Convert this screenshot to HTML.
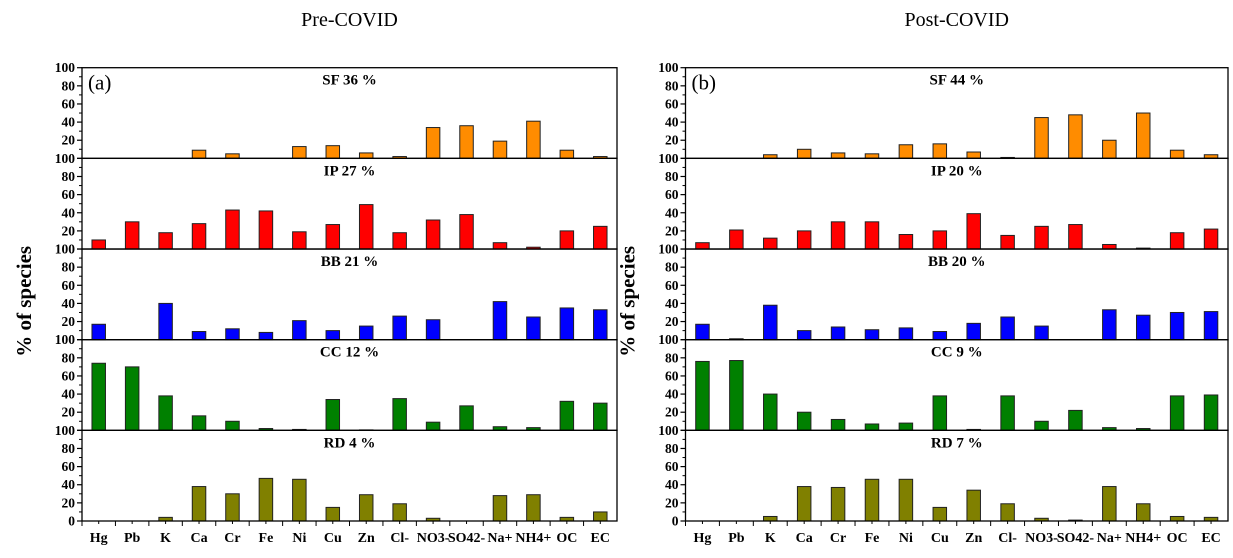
<!DOCTYPE html>
<html><head><meta charset="utf-8"><style>
html,body{margin:0;padding:0;background:#fff;}
svg{display:block;font-family:"Liberation Serif",serif;}
</style></head><body>
<svg id="chart" width="1233" height="558" viewBox="0 0 1233 558" xmlns="http://www.w3.org/2000/svg"></svg>
<script>
const categories = ["Hg","Pb","K","Ca","Cr","Fe","Ni","Cu","Zn","Cl-","NO3-","SO42-","Na+","NH4+","OC","EC"];
const factorNames = ["SF","IP","BB","CC","RD"];
const preShares = ["36","27","21","12","4"];
const postShares = ["44","20","20","9","7"];
const preSF = [0,0,0,9,5,0,13,14,6,2,34,36,19,41,9,2];
const preIP = [10,30,18,28,43,42,19,27,49,18,32,38,7,2,20,25];
const preBB = [17,0,40,9,12,8,21,10,15,26,22,0,42,25,35,33];
const preCC = [74,70,38,16,10,2,1,34,0.5,35,9,27,4,3,32,30];
const preRD = [0,0,4,38,30,47,46,15,29,19,3,0,28,29,4,10];
const postSF = [0,0,4,10,6,5,15,16,7,1,45,48,20,50,9,4];
const postIP = [7,21,12,20,30,30,16,20,39,15,25,27,5,1,18,22];
const postBB = [17,1,38,10,14,11,13,9,18,25,15,0,33,27,30,31];
const postCC = [76,77,40,20,12,7,8,38,1,38,10,22,3,2,38,39];
const postRD = [0,0,5,38,37,46,46,15,34,19,3,1,38,19,5,4];
const yTicks = [0,20,40,60,80,100];

const colors = ["#FF8C00","#FF0000","#0000FF","#008000","#808000"];
const NS = "http://www.w3.org/2000/svg";
const svg = document.getElementById('chart');
function mk(tag, attrs, parent){const e=document.createElementNS(NS,tag);for(const k in attrs)e.setAttribute(k,attrs[k]);(parent||svg).appendChild(e);return e;}

const top0 = 67.7, bottom0 = 521, subH = (bottom0-top0)/5;

function drawPanel(x0, x1, series, shares, label, title, tag){
  const g = mk('g',{});
  
  
  const step = (x1-x0)/categories.length;
  const xc = i => x0 + step*(i+0.5);
  const bw = 13.5;
  const t = mk('text',{x:(x0+x1)/2,y:26,'text-anchor':'middle','font-size':20},g);
  t.textContent = title;
  
  
  for(let s=0;s<5;s++){
    const top = top0 + s*subH, bot = top + subH;
    const yv = v => bot - v/100*subH;
    const sg = mk('g',{},g);
    
    
    series[s].forEach((v,i)=>{
      if(v<=0) return;
      const r = mk('rect',{x:xc(i)-bw/2,y:yv(v),width:bw,height:bot-yv(v),fill:colors[s],stroke:'#222','stroke-width':1},sg);
      
      
    });
    const st = mk('text',{x:(x0+x1)/2,y:top+17,'text-anchor':'middle','font-size':15,'font-weight':'bold'},sg);
    st.textContent = factorNames[s]+' '+shares[s]+' %';
    
    
    yTicks.forEach(v=>{
      const y = yv(v);
      mk('line',{x1:x0-5,x2:x0,y1:y,y2:y,stroke:'#000','stroke-width':1.2},sg);
      let lab = null;
      if(v>0 && !(v===100 && s>0)) lab = String(v);
      if(v===0) lab = s===4 ? '0' : '100';
      if(lab!==null){
        const tl = mk('text',{x:x0-7,y:y+4.5,'text-anchor':'end','font-size':13.5,'font-weight':'bold'},sg);
        tl.textContent = lab;
        
        
      }
    });
    for(let v=10;v<100;v+=20){const y=yv(v);mk('line',{x1:x0-3,x2:x0,y1:y,y2:y,stroke:'#000','stroke-width':1},sg);}
    mk('rect',{x:x0,y:top,width:x1-x0,height:subH,fill:'none',stroke:'#000','stroke-width':1.3},sg);
  }
  categories.forEach((c,i)=>{
    mk('line',{x1:x0+step*i,x2:x0+step*i,y1:bottom0,y2:bottom0+5,stroke:'#000','stroke-width':1},g);
    mk('line',{x1:xc(i),x2:xc(i),y1:bottom0,y2:bottom0+3,stroke:'#000','stroke-width':1},g);
    const tl = mk('text',{x:xc(i),y:bottom0+21,'text-anchor':'middle','font-size':14,'font-weight':'bold'},g);
    tl.textContent = c;
    
    
  });
  const pl = mk('text',{x:x0+6,y:top0+22,'font-size':21},g);
  pl.textContent = label;
  
  
  const yl = mk('text',{x:0,y:0,'text-anchor':'middle','font-size':21,'font-weight':'bold',transform:`translate(${x0-51},${(top0+bottom0)/2+7}) rotate(-90)`},g);
  yl.textContent = '% of species';
  
  
}
drawPanel(82,617,[preSF,preIP,preBB,preCC,preRD],preShares,'(a)','Pre-COVID','pre-covid');
drawPanel(685.5,1228,[postSF,postIP,postBB,postCC,postRD],postShares,'(b)','Post-COVID','post-covid');
</script>
</body></html>
